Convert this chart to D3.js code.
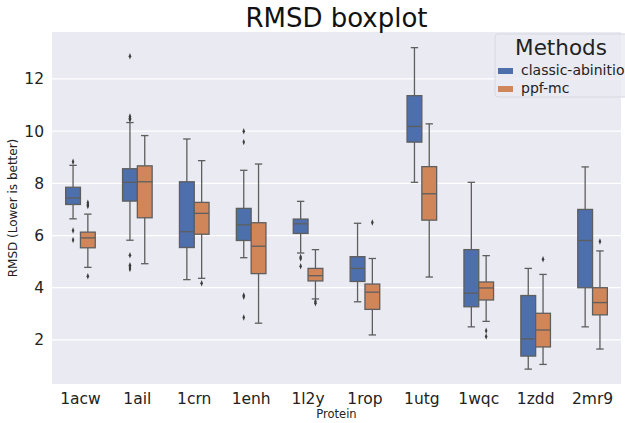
<!DOCTYPE html>
<html><head><meta charset="utf-8">
<script src="https://cdn.jsdelivr.net/npm/d3@7"></script>
<style>body{margin:0;background:#fff;} svg{display:block;font-family:"DejaVu Sans",sans-serif;}</style>
</head><body>
<svg id="c" width="625" height="423"></svg>
<script>
const categories = ["1acw","1ail","1crn","1enh","1l2y","1rop","1utg","1wqc","1zdd","2mr9"];
const methods = ["classic-abinitio","ppf-mc"];
const yTicks = [2,4,6,8,10,12];

// classic-abinitio
const classicWhiskerLow = [6.64,5.82,4.31,5.15,5.33,3.46,8.04,2.50,0.88,2.50];
const classicQ1 =         [7.19,7.32,5.54,5.81,6.08,4.24,9.58,3.27,1.38,4.00];
const classicMedian =     [7.44,8.04,6.15,6.41,6.45,4.74,10.18,3.79,2.04,5.81];
const classicQ3 =         [7.85,8.56,8.06,7.04,6.63,5.19,11.36,5.46,3.70,7.00];
const classicWhiskerHigh= [8.69,10.33,9.70,8.50,7.31,6.47,13.20,8.04,4.74,8.63];
const classicOutliers = [[8.83,6.19,5.83],[12.87,10.56,10.49,10.45,5.24,4.86,4.79,4.72],[],[10.0,9.58,3.70,3.65,2.86],[5.18,5.12,4.82],[],[],[],[],[]];

// ppf-mc
const ppfWhiskerLow = [4.78,4.92,4.36,2.64,3.57,2.19,4.41,2.71,1.06,1.65];
const ppfQ1 =         [5.53,6.68,6.05,4.54,4.26,3.17,6.59,3.53,1.73,2.96];
const ppfMedian =     [5.91,8.06,6.85,5.59,4.46,3.83,7.60,3.99,2.38,3.43];
const ppfQ3 =         [6.13,8.67,7.27,6.49,4.74,4.14,8.64,4.22,3.02,4.00];
const ppfWhiskerHigh= [6.82,9.83,8.87,8.74,5.46,5.12,10.28,5.23,4.51,5.41];
const ppfOutliers = [[7.26,7.18,7.13,4.44],[],[4.17],[],[3.47,3.40],[6.50],[],[2.35,2.13],[5.09],[5.77]];

const colors = ["#4d6fab","#d1865a"];
const lineColor = "#5e5e5e";

const series = [
  {lo:classicWhiskerLow,q1:classicQ1,med:classicMedian,q3:classicQ3,hi:classicWhiskerHigh,out:classicOutliers},
  {lo:ppfWhiskerLow,q1:ppfQ1,med:ppfMedian,q3:ppfQ3,hi:ppfWhiskerHigh,out:ppfOutliers}
];

const svg = d3.select("#c");
const m = {left:52, right:4, top:32, bottom:39};
const W = 625, H = 423;
const pw = W - m.left - m.right, ph = H - m.top - m.bottom;

const x = d3.scaleBand().domain(categories).range([m.left, m.left+pw]).padding(0);
const xm = d3.scaleBand().domain(methods).range([0, x.bandwidth()*0.52]).padding(0);
const y = d3.scaleLinear().domain([0.31,13.8]).range([m.top+ph, m.top]);

svg.append("rect").attr("x",m.left).attr("y",m.top).attr("width",pw).attr("height",ph).attr("fill","#eaeaf2");

// grid
svg.append("g").selectAll("line").data(yTicks).join("line")
  .attr("x1",m.left).attr("x2",m.left+pw)
  .attr("y1",d=>y(d)).attr("y2",d=>y(d))
  .attr("stroke","#fff").attr("stroke-width",1.2);

// y axis
const ya = svg.append("g").attr("transform",`translate(${m.left},0)`)
  .call(d3.axisLeft(y).tickValues(yTicks).tickSize(0).tickPadding(8));
ya.select(".domain").remove();
ya.selectAll("text").attr("font-size",15.5).attr("fill","#222").attr("font-family","DejaVu Sans");

// x axis
const xa = svg.append("g").attr("transform",`translate(0,${m.top+ph})`)
  .call(d3.axisBottom(x).tickSize(0).tickPadding(9));
xa.select(".domain").remove();
xa.selectAll("text").attr("font-size",15.5).attr("fill","#222").attr("font-family","DejaVu Sans");

// boxes
const off0 = (x.bandwidth() - xm.range()[1])/2;
series.forEach((s,si)=>{
  const g = svg.append("g");
  categories.forEach((c,i)=>{
    const bx = x(c) + off0 + xm(methods[si]);
    const bw = xm.bandwidth();
    const cx = bx + bw/2;
    const cap = bw/2;
    const gg = g.append("g");
    gg.append("line").attr("x1",cx).attr("x2",cx).attr("y1",y(s.hi[i])).attr("y2",y(s.q3[i])).attr("stroke",lineColor).attr("stroke-width",1.3);
    gg.append("line").attr("x1",cx).attr("x2",cx).attr("y1",y(s.q1[i])).attr("y2",y(s.lo[i])).attr("stroke",lineColor).attr("stroke-width",1.3);
    gg.append("line").attr("x1",cx-cap/2).attr("x2",cx+cap/2).attr("y1",y(s.hi[i])).attr("y2",y(s.hi[i])).attr("stroke",lineColor).attr("stroke-width",1.3);
    gg.append("line").attr("x1",cx-cap/2).attr("x2",cx+cap/2).attr("y1",y(s.lo[i])).attr("y2",y(s.lo[i])).attr("stroke",lineColor).attr("stroke-width",1.3);
    gg.append("rect").attr("x",bx).attr("width",bw).attr("y",y(s.q3[i])).attr("height",y(s.q1[i])-y(s.q3[i]))
      .attr("fill",colors[si]).attr("stroke",lineColor).attr("stroke-width",1.3);
    gg.append("line").attr("x1",bx).attr("x2",bx+bw).attr("y1",y(s.med[i])).attr("y2",y(s.med[i])).attr("stroke",lineColor).attr("stroke-width",1.3);
    gg.selectAll("path").data(s.out[i]).join("path")
      .attr("d",d3.symbol(d3.symbolDiamond,10)())
      .attr("transform",d=>`translate(${cx},${y(d)}) scale(0.75,1.1)`)
      .attr("fill","#3d3d3d");
  });
});

// title
svg.append("text").attr("x",m.left+pw/2).attr("y",27).attr("text-anchor","middle")
  .attr("font-size",26).attr("fill","#111").text("RMSD boxplot");
// axis titles
svg.append("text").attr("x",m.left+pw/2).attr("y",418).attr("text-anchor","middle")
  .attr("font-size",11.5).attr("fill","#222").text("Protein");
svg.append("text").attr("transform",`translate(17,${m.top+ph/2}) rotate(-90)`).attr("text-anchor","middle")
  .attr("font-size",12).attr("fill","#222").text("RMSD (Lower is better)");

// legend
const lg = svg.append("g");
lg.append("rect").attr("x",495).attr("y",34).attr("width",140).attr("height",63).attr("rx",3)
  .attr("fill","#eaeaf2").attr("fill-opacity",0.8).attr("stroke","#d8d8e0");
lg.append("text").attr("x",561).attr("y",55).attr("text-anchor","middle").attr("font-size",21.5).attr("fill","#222").text("Methods");
methods.forEach((mm,i)=>{
  lg.append("rect").attr("x",498).attr("y",68+i*18).attr("width",15).attr("height",6).attr("fill",colors[i]);
  lg.append("text").attr("x",521).attr("y",75+i*18).attr("font-size",14).attr("fill","#222").text(mm);
});
</script>
</body></html>
